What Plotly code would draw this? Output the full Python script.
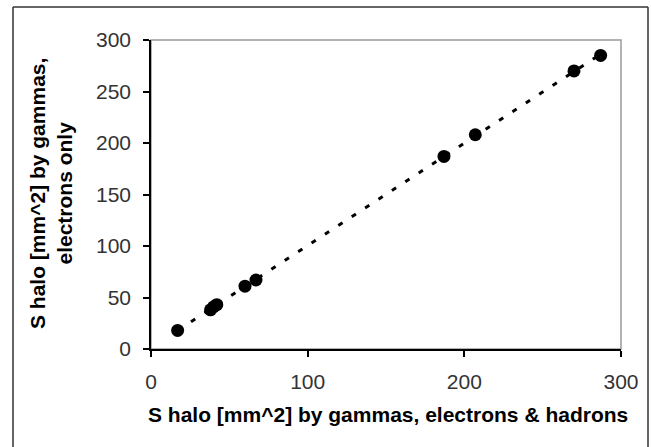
import numpy as np
import plotly.graph_objects as go

# Data
x_all_hadrons = [17, 38, 40, 42, 60, 67, 187, 207, 270, 287]
y_electrons_only = [18, 38, 41, 43, 61, 67, 187, 208, 270, 285]
x_ticks = [0, 100, 200, 300]
y_ticks = [0, 50, 100, 150, 200, 250, 300]

x_title = "S halo [mm^2] by gammas, electrons & hadrons"
y_title = "S halo [mm^2] by gammas,<br>electrons only"

# Linear trend line (as in the spreadsheet chart)
slope, intercept = np.polyfit(x_all_hadrons, y_electrons_only, 1)
trend_x = [min(x_all_hadrons), max(x_all_hadrons)]
trend_y = [slope * v + intercept for v in trend_x]

W, H = 651, 447
L, R, T, B = 151, 30, 40, 98
pw, ph = W - L - R, H - T - B

def px_x(p):
    return (p - L) / pw

def px_y(p):
    return (H - B - p) / ph

fig = go.Figure()
fig.add_trace(go.Scatter(
    x=trend_x, y=trend_y, mode="lines",
    line=dict(color="black", width=3, dash="5px,11px"),
    hoverinfo="skip", showlegend=False,
))
fig.add_trace(go.Scatter(
    x=x_all_hadrons, y=y_electrons_only, mode="markers",
    marker=dict(color="black", size=13, line=dict(width=0)),
    showlegend=False,
))

font_family = "Liberation Sans, Arial, sans-serif"
axis_common = dict(
    showgrid=False, zeroline=False, showline=True, linecolor="black", linewidth=1.5,
    ticks="outside", ticklen=6, tickwidth=1.5, tickcolor="black",
    tickfont=dict(family=font_family, size=21, color="#333333"),
    range=[0, 300], tickmode="array",
)
fig.update_xaxes(**axis_common, tickvals=x_ticks, ticktext=[str(v) for v in x_ticks],
                 ticklabelstandoff=7)
fig.update_yaxes(**axis_common, tickvals=y_ticks, ticktext=[str(v) for v in y_ticks],
                 ticklabelstandoff=8)

border = dict(color="#333333", width=1.5)
fig.update_layout(
    width=W, height=H,
    margin=dict(l=L, r=R, t=T, b=B, autoexpand=False),
    paper_bgcolor="white", plot_bgcolor="white",
    font=dict(family=font_family, color="black"),
    shapes=[
        # grey plot-area frame
        dict(type="rect", xref="paper", yref="paper", x0=0, x1=1, y0=0, y1=1,
             line=dict(color="#9a9a9a", width=1.5), layer="below"),
        # outer chart border (left, top, right)
        dict(type="line", xref="paper", yref="paper",
             x0=px_x(13), x1=px_x(13), y0=px_y(447), y1=px_y(7), line=border, layer="above"),
        dict(type="line", xref="paper", yref="paper",
             x0=px_x(13), x1=px_x(648), y0=px_y(7), y1=px_y(7), line=border, layer="above"),
        dict(type="line", xref="paper", yref="paper",
             x0=px_x(648), x1=px_x(648), y0=px_y(447), y1=px_y(7), line=border, layer="above"),
    ],
    annotations=[
        dict(text="<b>%s</b>" % x_title, xref="paper", yref="paper",
             x=px_x(388), y=px_y(414), xanchor="center", yanchor="middle",
             showarrow=False, font=dict(family=font_family, size=21, color="black")),
        dict(text="<b>%s</b>" % y_title, xref="paper", yref="paper",
             x=px_x(51), y=px_y(194), xanchor="center", yanchor="middle",
             textangle=-90, showarrow=False,
             font=dict(family=font_family, size=21, color="black")),
    ],
)

fig.write_html(
    "out.html",
    config={"displayModeBar": False},
    post_script="document.body.style.margin='0';document.body.style.overflow='hidden';",
)
